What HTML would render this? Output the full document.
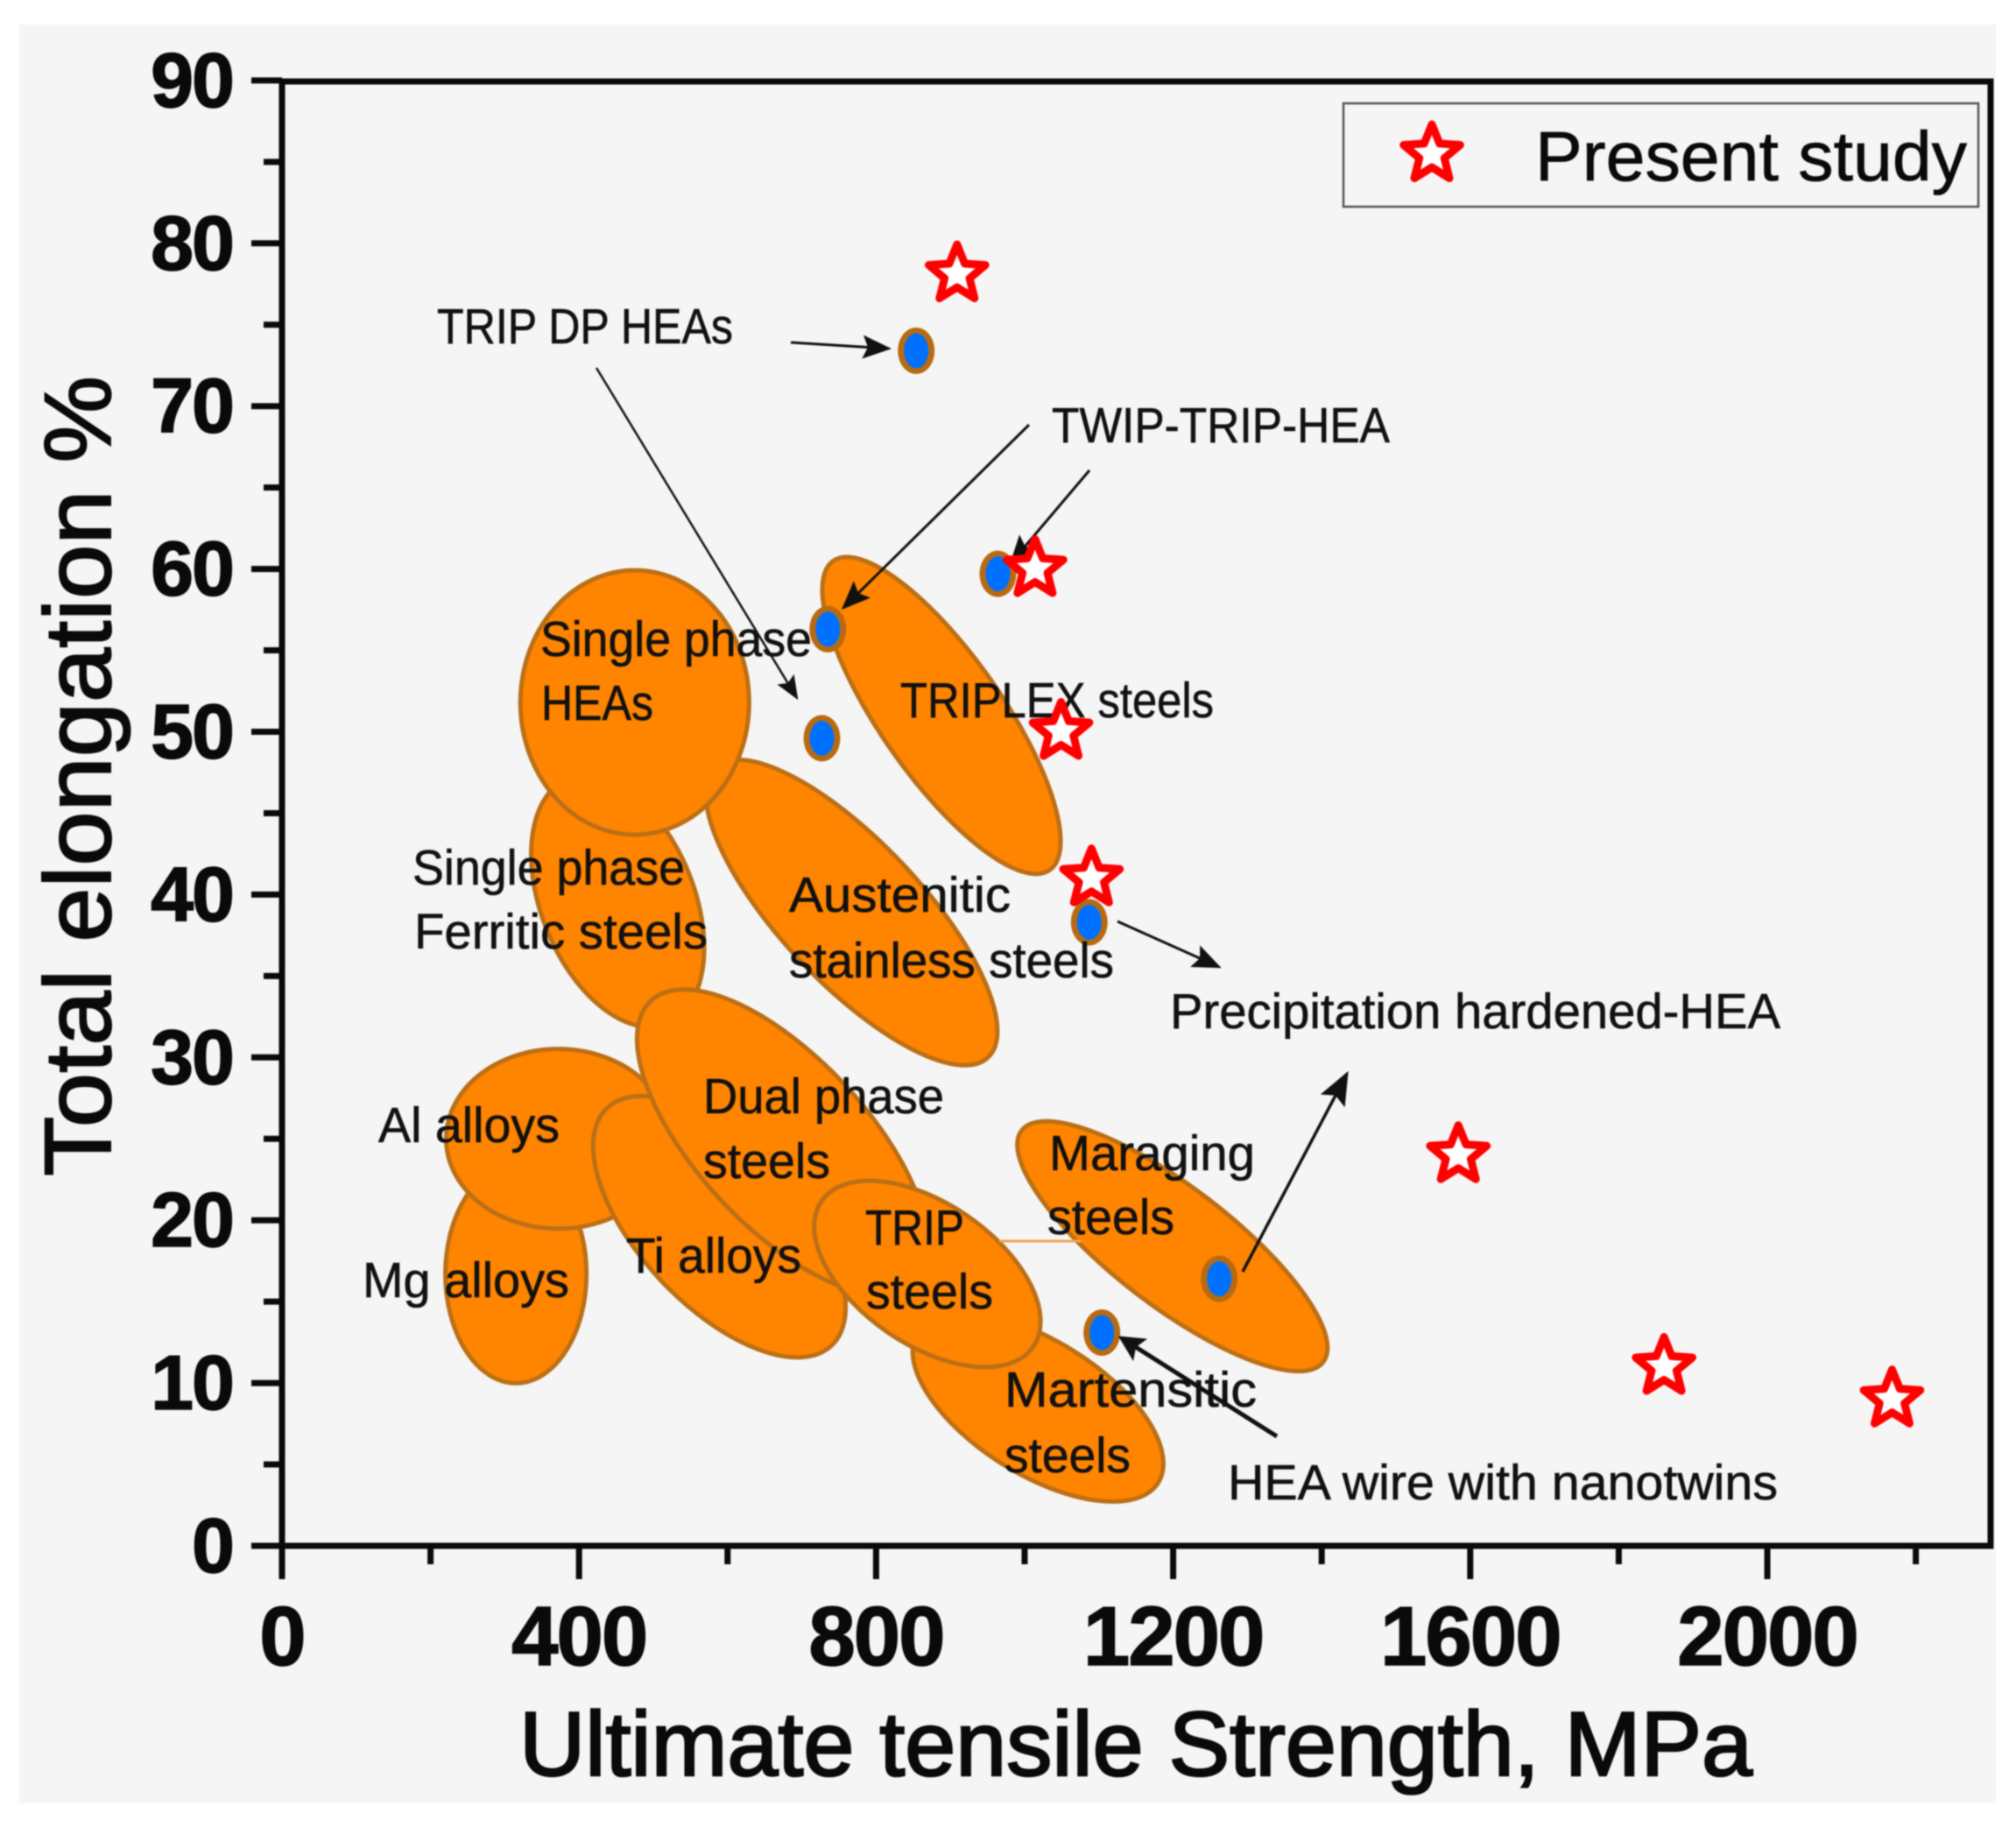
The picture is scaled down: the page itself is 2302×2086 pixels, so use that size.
<!DOCTYPE html>
<html lang="en">
<head>
<meta charset="utf-8">
<title>Total elongation vs ultimate tensile strength</title>
<style>
html,body{margin:0;padding:0;background:#fff;}
svg{display:block;filter:blur(0.8px);}
text{font-family:"Liberation Sans",sans-serif;fill:#0a0a0a;}
.note{font-size:57px;fill:#111;stroke:#111;stroke-width:0.6px;}
</style>
</head>
<body>
<svg id="chart" xmlns="http://www.w3.org/2000/svg" width="2302" height="2086" viewBox="0 0 2302 2086">
  <defs>
    <marker id="ah" markerWidth="6" markerHeight="6" refX="5" refY="3" orient="auto"><path d="M0,0 L6,3 L0,6 L1.2,3 Z" fill="#111"/></marker>
    <marker id="ahs" markerWidth="11" markerHeight="9" refX="10" refY="4.5" orient="auto"><path d="M0,0 L11,4.5 L0,9 L2,4.5 Z" fill="#111"/></marker>
  </defs>
  <rect x="22" y="28" width="2257" height="2031" fill="#f5f5f5"/>
  <g id="regions"></g>
  <line x1="1141" y1="1417" x2="1235" y2="1417" stroke="#f3a457" stroke-width="3"/>
  <g id="points"></g>
  <g>
    <text class="note" x="617" y="749" textLength="310" lengthAdjust="spacingAndGlyphs">Single phase</text>
    <text class="note" x="618" y="822" textLength="128" lengthAdjust="spacingAndGlyphs">HEAs</text>
    <text class="note" x="1028" y="819" textLength="358" lengthAdjust="spacingAndGlyphs">TRIPLEX steels</text>
    <text class="note" x="471" y="1010" textLength="311" lengthAdjust="spacingAndGlyphs">Single phase</text>
    <text class="note" x="473" y="1083" textLength="335" lengthAdjust="spacingAndGlyphs">Ferritic steels</text>
    <text class="note" x="901" y="1041" textLength="253" lengthAdjust="spacingAndGlyphs">Austenitic</text>
    <text class="note" x="901" y="1116" textLength="371" lengthAdjust="spacingAndGlyphs">stainless steels</text>
    <text class="note" x="803" y="1271" textLength="275" lengthAdjust="spacingAndGlyphs">Dual phase</text>
    <text class="note" x="803" y="1345" textLength="145" lengthAdjust="spacingAndGlyphs">steels</text>
    <text class="note" x="432" y="1304" textLength="207" lengthAdjust="spacingAndGlyphs">Al alloys</text>
    <text class="note" x="1198" y="1336" textLength="235" lengthAdjust="spacingAndGlyphs">Maraging</text>
    <text class="note" x="1196" y="1409" textLength="145" lengthAdjust="spacingAndGlyphs">steels</text>
    <text class="note" x="988" y="1421" textLength="113" lengthAdjust="spacingAndGlyphs">TRIP</text>
    <text class="note" x="989" y="1494" textLength="145" lengthAdjust="spacingAndGlyphs">steels</text>
    <text class="note" x="715" y="1453" textLength="200" lengthAdjust="spacingAndGlyphs">Ti alloys</text>
    <text class="note" x="414" y="1481" textLength="236" lengthAdjust="spacingAndGlyphs">Mg alloys</text>
    <text class="note" x="1147" y="1606" textLength="288" lengthAdjust="spacingAndGlyphs">Martensitic</text>
    <text class="note" x="1147" y="1681" textLength="144" lengthAdjust="spacingAndGlyphs">steels</text>
  </g>
  <g>
    <text class="note" x="499" y="392" textLength="338" lengthAdjust="spacingAndGlyphs">TRIP DP HEAs</text>
    <text class="note" x="1201" y="505" textLength="386" lengthAdjust="spacingAndGlyphs">TWIP-TRIP-HEA</text>
    <text class="note" x="1336" y="1174" textLength="697" lengthAdjust="spacingAndGlyphs">Precipitation hardened-HEA</text>
    <text class="note" x="1402" y="1712" textLength="628" lengthAdjust="spacingAndGlyphs">HEA wire with nanotwins</text>
    <line x1="903" y1="391" x2="1015" y2="398" stroke="#111" stroke-width="3" marker-end="url(#ahs)"/>
    <line x1="681" y1="420" x2="910" y2="797" stroke="#111" stroke-width="2.5" marker-end="url(#ahs)"/>
    <line x1="1175" y1="485" x2="963" y2="694" stroke="#111" stroke-width="3" marker-end="url(#ahs)"/>
    <line x1="1244" y1="537" x2="1155" y2="642" stroke="#111" stroke-width="3" marker-end="url(#ahs)"/>
    <line x1="1276" y1="1052" x2="1392" y2="1104" stroke="#111" stroke-width="3" marker-end="url(#ahs)"/>
    <line x1="1419" y1="1452" x2="1538" y2="1226" stroke="#111" stroke-width="3.5" marker-end="url(#ahs)"/>
    <line x1="1458" y1="1640" x2="1281" y2="1528" stroke="#111" stroke-width="5" marker-end="url(#ah)"/>
  </g>
  <g id="stars"></g>
  <g id="axes"></g>
  <text transform="translate(126,886) rotate(-90)" text-anchor="middle" font-size="108" stroke="#0a0a0a" stroke-width="2" textLength="914" lengthAdjust="spacingAndGlyphs">Total elongation %</text>
  <text x="593" y="2027" font-size="104" stroke="#0a0a0a" stroke-width="2.5" textLength="1408" lengthAdjust="spacingAndGlyphs">Ultimate tensile Strength, MPa</text>
  <g>
    <rect x="1534" y="118" width="725" height="118" fill="none" stroke="#555" stroke-width="2.5"/>
    <path id="legendStar" fill="#fff" stroke="#ff0000" stroke-width="9" stroke-linejoin="round"/>
    <text x="1753" y="206" font-size="80" stroke="#0a0a0a" stroke-width="0.8" textLength="493" lengthAdjust="spacingAndGlyphs">Present study</text>
  </g>
</svg>
<script>
const starStrength = [909, 1014, 1049, 1090, 1584, 1861, 2168];
const starElongation = [78.1, 60, 50, 41, 24, 11, 9];

const pointStrength = [854, 964, 735, 727, 1087, 1262, 1104];
const pointElongation = [73.4, 59.7, 56.3, 49.6, 38.3, 16.4, 13.1];

const regionNames = ['mg-alloys', 'ferritic-steels', 'austenitic-steels', 'single-phase-heas', 'triplex-steels', 'al-alloys', 'ti-alloys', 'dual-phase-steels', 'martensitic-steels', 'trip-steels', 'maraging-steels'];
const regionStrength = [315, 452, 767, 475, 888, 372, 589, 674, 1018, 869, 1199];
const regionElongation = [16.7, 39.6, 38.9, 51.8, 51, 25, 19.6, 24.8, 8.5, 16.7, 18.4];
const regionSemiMajor = [147, 178, 268, 178, 254, 151, 220, 260, 191, 173, 256];
const regionSemiMinor = [95, 103, 95, 154, 82, 121, 107, 114, 90, 95, 80];
const regionTilt = [90, 68, 46.7, 90, 55, 0, 46.6, 47, 32, 34.5, 37.5];

const xTickValues = [0, 400, 800, 1200, 1600, 2000];
const xMinorValues = [200, 600, 1000, 1400, 1800, 2200];
const yTickValues = [0, 10, 20, 30, 40, 50, 60, 70, 80, 90];
const yMinorValues = [5, 15, 25, 35, 45, 55, 65, 75, 85];

const NS = 'http://www.w3.org/2000/svg';
const xPerUnit = 0.848;
const yPerUnit = 18.59;
function xAxis(v) { return 322 + v * xPerUnit; }
function yAxis(v) { return 1765 - v * yPerUnit; }
function make(tag, attrs, parent) {
  const el = document.createElementNS(NS, tag);
  for (const k in attrs) el.setAttribute(k, attrs[k]);
  parent.appendChild(el);
  return el;
}
function starPath(cx, cy, outer, inner) {
  let d = '';
  for (let i = 0; i < 10; i++) {
    const r = i % 2 ? inner : outer;
    const a = -Math.PI / 2 + i * Math.PI / 5;
    d += (i ? 'L' : 'M') + (cx + r * Math.cos(a)).toFixed(1) + ',' + (cy + r * Math.sin(a)).toFixed(1);
  }
  return d + 'Z';
}

const regionLayer = document.getElementById('regions');
regionNames.forEach(function (name, i) {
  const cx = xAxis(regionStrength[i]);
  const cy = yAxis(regionElongation[i]);
  const e = make('ellipse', {
    cx: cx, cy: cy,
    rx: regionSemiMajor[i] * xPerUnit,
    ry: regionSemiMinor[i] * xPerUnit,
    transform: 'rotate(' + regionTilt[i] + ' ' + cx + ' ' + cy + ')',
    fill: '#ff8400', stroke: '#bb6f16', 'stroke-width': 5
  }, regionLayer);
  
  
});

const pointLayer = document.getElementById('points');
pointStrength.forEach(function (v, i) {
  const cx = xAxis(v);
  const cy = yAxis(pointElongation[i]);
  const outer = make('ellipse', { cx: cx, cy: cy, rx: 21, ry: 26.5, fill: '#b86a10' }, pointLayer);
  
  
  const inner = make('ellipse', { cx: cx, cy: cy, rx: 14, ry: 20, fill: '#0070ff' }, pointLayer);
  
  
});

const starLayer = document.getElementById('stars');
starStrength.forEach(function (v, i) {
  const s = make('path', {
    d: starPath(xAxis(v), yAxis(starElongation[i]), 34, 15),
    fill: '#fff', stroke: '#ff0000', 'stroke-width': 9, 'stroke-linejoin': 'round'
  }, starLayer);
  
  
});
document.getElementById('legendStar').setAttribute('d', starPath(1635, 176, 34, 15));

const axes = document.getElementById('axes');
const spine = make('path', {
  d: 'M322,93 L2273,93 L2273,1765 L322,1765 Z',
  fill: 'none', stroke: '#0a0a0a', 'stroke-width': 7
}, axes);



xTickValues.forEach(function (v) {
  const t = make('line', { x1: xAxis(v), x2: xAxis(v), y1: 1765, y2: 1803, stroke: '#0a0a0a', 'stroke-width': 7 }, axes);
  
  
  const l = make('text', { x: xAxis(v), y: 1901, 'text-anchor': 'middle', 'font-size': 96, 'font-weight': 'bold', 'letter-spacing': -2, stroke: '#0a0a0a', 'stroke-width': 1.5 }, axes);
  l.textContent = String(v);
  
  
});
xMinorValues.forEach(function (v) {
  const t = make('line', { x1: xAxis(v), x2: xAxis(v), y1: 1765, y2: 1786, stroke: '#0a0a0a', 'stroke-width': 7 }, axes);
  
  
});
yTickValues.forEach(function (v) {
  const t = make('line', { x1: 287, x2: 322, y1: yAxis(v), y2: yAxis(v), stroke: '#0a0a0a', 'stroke-width': 7 }, axes);
  
  
  const l = make('text', { x: 266, y: yAxis(v) + 30, 'text-anchor': 'end', 'font-size': 88, 'font-weight': 'bold', stroke: '#0a0a0a', 'stroke-width': 1.5, 'letter-spacing': -2 }, axes);
  l.textContent = String(v);
  
  
});
yMinorValues.forEach(function (v) {
  const t = make('line', { x1: 301, x2: 322, y1: yAxis(v), y2: yAxis(v), stroke: '#0a0a0a', 'stroke-width': 7 }, axes);
  
  
});
</script>
</body>
</html>
